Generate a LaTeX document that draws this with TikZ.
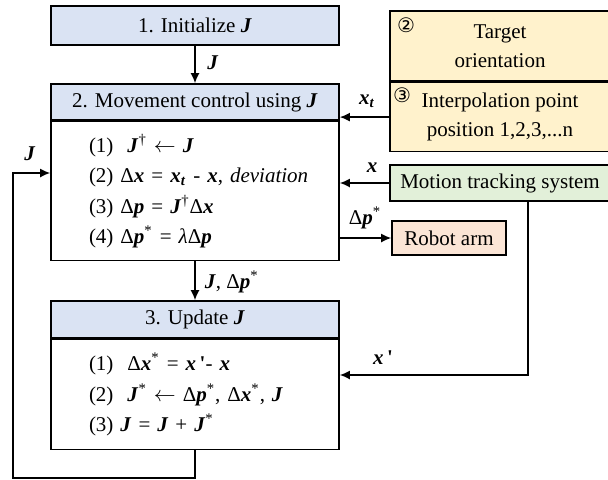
\documentclass[tikz,border=0pt]{standalone}
\usepackage{fontspec}
\setmainfont{Liberation Serif}[Ligatures=TeXOff]
\newfontfamily\circfont{DejaVu Sans}
\usepackage{tikz}
\usetikzlibrary{arrows.meta,positioning}
\definecolor{headblue}{RGB}{218,227,243}
\definecolor{tgtyellow}{RGB}{255,242,204}
\definecolor{mtsgreen}{RGB}{226,240,217}
\definecolor{armpeach}{RGB}{251,229,214}
\newcommand{\bv}[1]{\textbf{\textit{#1}}}

\begin{document}
\begin{tikzpicture}[x=0.5pt, y=-0.5pt, line width=0.8pt,
  every node/.style={font=\fontsize{10.5}{13}\selectfont},
  head/.style={draw, fill=headblue, minimum width=144pt, minimum height=18pt, inner sep=0pt},
  body/.style={draw, fill=white, minimum width=144pt, text width=106pt, inner xsep=19pt,
    align=left, font=\fontsize{10.5}{15.3}\selectfont},
  side/.style={draw, minimum width=110pt, align=center, inner sep=0pt,
    font=\fontsize{10.5}{14.5}\selectfont},
  num/.style={font=\circfont\fontsize{10}{12}\selectfont, inner sep=0pt},
  lab/.style={inner sep=1pt},
  arr/.style={-{Latex[length=5pt,width=4.5pt]}, line width=0.8pt}
]
\useasboundingbox (0,0) rectangle (608,479);

% left column
\node[head, minimum height=19.5pt] (init) at (195,25.5) {1. Initialize \bv{J}};
\node[head] (ctrlhead) at (195,102) {2. Movement control using \bv{J}};
\node[body, below=0pt of ctrlhead, minimum height=69.5pt] (ctrlbody) {%
  (1)\ \ \bv{J}\textsuperscript{\textdagger} $\leftarrow$ \bv{J}\\
  \mbox{(2) Δ\bv{x} = \bv{x}\textsubscript{\bv{t}} - \bv{x}, \textit{deviation}}\\
  (3) Δ\bv{p} = \bv{J}\textsuperscript{\textdagger}Δ\bv{x}\\
  (4) Δ\bv{p}\textsuperscript{*} = \textit{λ}Δ\bv{p}};
\node[head, minimum height=18.5pt] (updhead) at (195,319.5) {3. Update \bv{J}};
\node[body, below=0pt of updhead, minimum height=55pt] (updbody) {%
  (1)\ \ Δ\bv{x}\textsuperscript{*} = \bv{x}\,\textbf{'}- \bv{x}\\
  (2)\ \ \bv{J}\textsuperscript{*} $\leftarrow$ Δ\bv{p}\textsuperscript{*}, Δ\bv{x}\textsuperscript{*}, \bv{J}\\
  (3) \bv{J} = \bv{J} + \bv{J}\textsuperscript{*}};

% right column
\node[side, fill=tgtyellow, minimum height=35pt] (target) at (500,46) {Target\\orientation};
\node[side, fill=tgtyellow, minimum height=34.5pt, below=0pt of target] (interp) {Interpolation point\\position 1,2,3,...n};
\node[num, anchor=north west] (n2) at ([xshift=3.5pt,yshift=-3.5pt]target.north west) {②};
\node[num, anchor=north west] (n3) at ([xshift=1.5pt,yshift=-2.5pt]interp.north west) {③};
\node[side, fill=mtsgreen, minimum height=18pt] (mts) at (500,183) {Motion tracking system};
\node[draw, fill=armpeach, minimum width=57pt, minimum height=17pt, inner sep=0pt] (robot) at (449,238) {Robot arm};

% connectors
\draw[arr] (init) -- (ctrlhead);
\draw[arr] (ctrlbody) -- (updhead);
\draw[arr] (interp.west) -- (interp.west -| ctrlhead.east);
\draw[arr] (mts.west) -- (mts.west -| ctrlbody.east);
\draw[arr] (robot.west -| ctrlbody.east) -- (robot.west);
\coordinate (xp) at (528,375);
\draw[arr] (mts.south -| xp) -- (xp) -- (xp -| updbody.east);
\coordinate (loop) at (13,478);
\coordinate (fb) at (13,173);
\draw[arr] (updbody.south) |- (loop) -- (fb) -- (fb -| ctrlbody.west);

% labels
\node[lab] (lj) at (213,63) {\bv{J}};
\node[lab] (lfb) at (30,154) {\bv{J}};
\node[lab] (lxt) at (367,101) {\bv{x}\textsubscript{\bv{t}}};
\node[lab] (lx) at (372,168) {\bv{x}};
\node[lab] (ldp) at (365,218) {Δ\bv{p}\textsuperscript{*}};
\node[lab, anchor=west] (ljdp) at (202,282) {\bv{J}, Δ\bv{p}\textsuperscript{*}};
\node[lab] (lxp) at (383,358) {\bv{x}\,\textbf{'}};
\end{tikzpicture}
\end{document}
